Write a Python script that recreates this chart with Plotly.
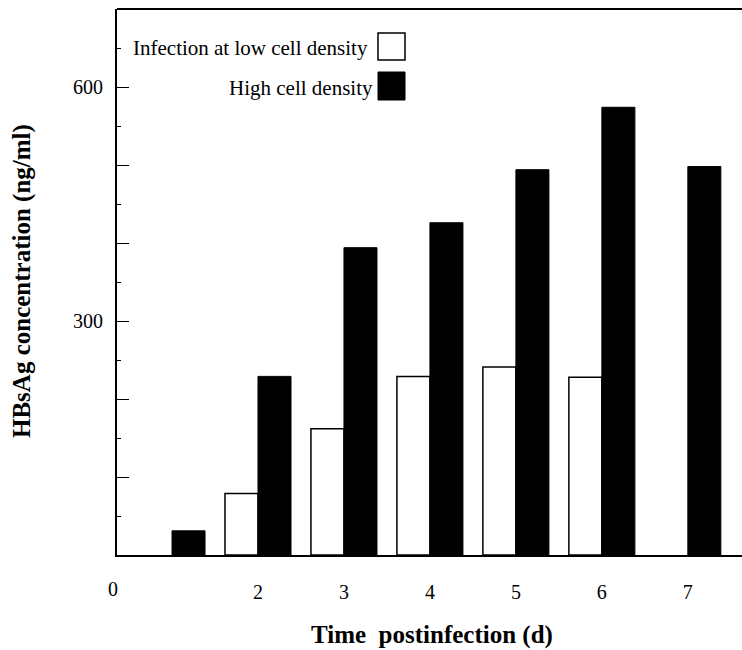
import plotly.graph_objects as go

days = [1, 2, 3, 4, 5, 6, 7]
low_density = [None, 79, 162, 229, 241, 228, None]
high_density = [31, 229, 394, 426, 494, 574, 498]
x_tick_vals = [2, 3, 4, 5, 6, 7]
x_tick_text = ["2", "3", "4", "5", "6", "7"]
y_tick_vals = [0, 100, 200, 300, 400, 500, 600, 700]
y_tick_text = ["", "", "", "300", "", "", "600", ""]
legend_names = ["Infection at low cell density", "High cell density"]

W, H = 742, 650
L, R, T, B = 117, 0, 9, 95
PW, PH = W - L - R, H - T - B

def px(x):
    return (x - L) / PW

def py(y):
    return (H - B - y) / PH

FONT = "Liberation Serif, Times New Roman, serif"
BW = 0.384

fig = go.Figure()
fig.add_trace(go.Bar(x=days, y=low_density, width=BW, offset=-BW,
                     marker=dict(color="white", line=dict(color="black", width=1.5)),
                     name=legend_names[0], showlegend=False))
fig.add_trace(go.Bar(x=days, y=high_density, width=BW, offset=0,
                     marker=dict(color="black", line=dict(color="black", width=1)),
                     name=legend_names[1], showlegend=False))

fig.update_layout(
    width=W, height=H,
    margin=dict(l=L, r=R, t=T, b=B),
    plot_bgcolor="white", paper_bgcolor="white",
    barmode="overlay",
    font=dict(family=FONT, size=20, color="black"),
    xaxis=dict(range=[0.36, 7.63], showline=True, linecolor="black", linewidth=2,
               showgrid=False, zeroline=False, ticks="",
               tickvals=x_tick_vals, ticktext=x_tick_text, ticklabelstandoff=18),
    yaxis=dict(range=[0, 700], showline=True, linecolor="black", linewidth=2,
               showgrid=False, zeroline=False, ticks="inside", ticklen=12,
               tickcolor="black", tickwidth=1,
               tickvals=y_tick_vals, ticktext=y_tick_text, ticklabelstandoff=8,
               minor=dict(ticks="inside", ticklen=4, tick0=0, dtick=50,
                          tickcolor="black", showgrid=False)),
)

# top frame line
fig.add_shape(type="line", xref="paper", yref="paper", x0=0, x1=1, y0=1, y1=1,
              line=dict(color="black", width=2))

# origin label
fig.add_annotation(text="0", xref="paper", yref="paper", x=px(113), y=py(589),
                   showarrow=False, xanchor="center", yanchor="middle",
                   font=dict(size=20, family=FONT))

# axis titles
fig.add_annotation(text="<b>Time  postinfection (d)</b>", xref="paper", yref="paper",
                   x=px(432), y=py(635), showarrow=False, xanchor="center",
                   yanchor="middle", font=dict(size=25, family=FONT))
fig.add_annotation(text="<b>HBsAg concentration (ng/ml)</b>", xref="paper", yref="paper",
                   x=px(22), y=py(281), showarrow=False, textangle=-90,
                   xanchor="center", yanchor="middle", font=dict(size=25, family=FONT))

# legend (symbols on the right of text)
fig.add_annotation(text=legend_names[0], xref="paper", yref="paper",
                   x=px(370), y=py(48), showarrow=False, xanchor="right",
                   yanchor="middle", font=dict(size=21, family=FONT))
fig.add_annotation(text=legend_names[1], xref="paper", yref="paper",
                   x=px(375), y=py(88), showarrow=False, xanchor="right",
                   yanchor="middle", font=dict(size=21, family=FONT))
fig.add_shape(type="rect", xref="paper", yref="paper", x0=px(378), x1=px(405),
              y0=py(60), y1=py(33), fillcolor="white", line=dict(color="black", width=1.5))
fig.add_shape(type="rect", xref="paper", yref="paper", x0=px(378), x1=px(405),
              y0=py(100), y1=py(72), fillcolor="black", line=dict(color="black", width=1))

fig.write_html("out.html")
